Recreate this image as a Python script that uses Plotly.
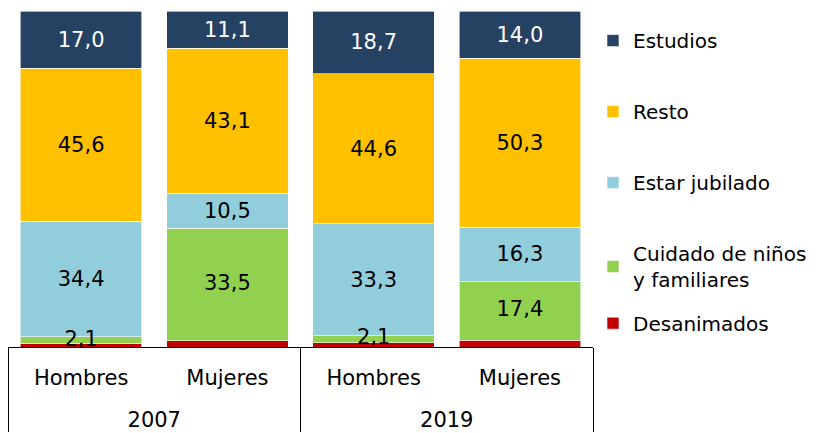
import plotly.graph_objects as go

years = ["<br>2007", "<br>2007", "<br>2019", "<br>2019"]
sexes = ["Hombres", "Mujeres", "Hombres", "Mujeres"]

desanimados = [0.9, 1.8, 1.3, 2.0]
cuidado = [2.1, 33.5, 2.1, 17.4]
jubilado = [34.4, 10.5, 33.3, 16.3]
resto = [45.6, 43.1, 44.6, 50.3]
estudios = [17.0, 11.1, 18.7, 14.0]

# (name, values, colour, label colour, label mode, legend)
series = [
    ("Desanimados", desanimados, "#C00000", "black", None, "legend2"),
    ("Cuidado de niños<br>y familiares", cuidado, "#92D050", "black", "overlay", "legend"),
    ("Estar jubilado", jubilado, "#92CDDC", "black", "inside", "legend"),
    ("Resto", resto, "#FFC000", "black", "inside", "legend"),
    ("Estudios", estudios, "#264263", "white", "inside", "legend"),
]

FONT = "DejaVu Sans"
fig = go.Figure()
n = len(series)
base = [0.0] * len(sexes)
overlays = []
for i, (name, vals, color, tcolor, lab, leg) in enumerate(series):
    fig.add_trace(go.Bar(
        x=[years, sexes], y=vals, name=name,
        legendgroup=f"g{i}", legendrank=n - i, legend=leg,
        marker=dict(color=color, line=dict(color="white", width=0.6)),
        texttemplate="%{y:.1f}" if lab == "inside" else None,
        textposition="inside" if lab == "inside" else "none",
        insidetextanchor="middle",
        textangle=0,
        constraintext="none",
        textfont=dict(color=tcolor, size=21, family=FONT),
        hoverinfo="skip",
    ))
    if lab == "overlay":
        mids = [b + v / 2 for b, v in zip(base, vals)]
        overlays.append((mids, vals, tcolor))
    base = [b + v for b, v in zip(base, vals)]

# labels that overflow their thin segments are drawn above all bars
for mids, vals, tcolor in overlays:
    fig.add_trace(go.Scatter(
        x=[years, sexes], y=mids, mode="text",
        text=[f"{v:.1f}".replace(".", ",") for v in vals],
        textposition="middle center",
        textfont=dict(color=tcolor, size=21, family=FONT),
        showlegend=False, hoverinfo="skip", cliponaxis=False,
    ))

# page has an 8px body margin, so the figure is sized to fill the remaining window
fig.update_layout(
    barmode="stack",
    bargap=0.17,
    separators=", ",
    width=811, height=425,
    margin=dict(l=0, r=226, t=3, b=86, autoexpand=False),
    paper_bgcolor="white", plot_bgcolor="white",
    font=dict(family=FONT, size=20, color="black"),
    uniformtext=dict(minsize=21, mode="show"),
    legend=dict(
        traceorder="grouped", tracegroupgap=42,
        x=1.0, xanchor="left", y=0.97, yanchor="top",
        font=dict(size=20, family=FONT),
        itemwidth=30, bgcolor="rgba(0,0,0,0)",
    ),
    legend2=dict(
        x=1.0, xanchor="left", y=0.071, yanchor="middle",
        font=dict(size=20, family=FONT),
        itemwidth=30, bgcolor="rgba(0,0,0,0)",
    ),
    showlegend=True,
)
fig.update_xaxes(
    type="multicategory", showline=True, linecolor="black", linewidth=1,
    showdividers=True, dividercolor="black", dividerwidth=1,
    ticks="", tickfont=dict(size=21, family=FONT), automargin=False,
    ticklabelstandoff=12,
)
fig.update_yaxes(range=[0, 100], visible=False, showgrid=False, automargin=False)

fig.write_html("out.html")
